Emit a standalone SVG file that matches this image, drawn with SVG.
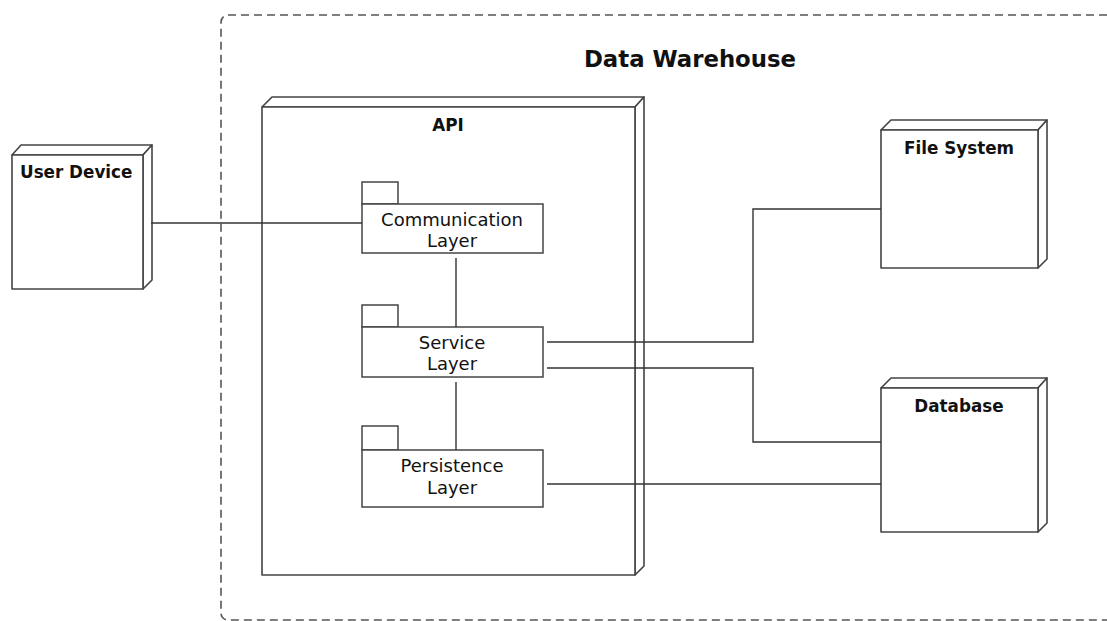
<svg xmlns="http://www.w3.org/2000/svg" width="1107" height="621" viewBox="0 0 1107 621">
  <style>
    .frame { fill: none; stroke: #555; stroke-width: 1.6; stroke-dasharray: 8 5; }
    .face { fill: #fff; stroke: #444; stroke-width: 1.6; stroke-linejoin: round; }
    .pkg { fill: #fff; stroke: #444; stroke-width: 1.5; }
    .wire { fill: none; stroke: #333; stroke-width: 1.4; }
    .title { font-family: "DejaVu Sans", "Liberation Sans", sans-serif; font-weight: bold; fill: #111; }
    .label { font-family: "DejaVu Sans", "Liberation Sans", sans-serif; font-size: 18px; fill: #111; text-anchor: middle; }
    .node-name { font-size: 16.8px; }
  </style>

  <rect width="1107" height="621" fill="#fff"/>

  <!-- deployment boundary -->
  <g id="data-warehouse">
    <rect class="frame" x="221" y="15" width="1000" height="605" rx="7"/>
    <text class="title" x="690" y="67" font-size="22.8" text-anchor="middle">Data Warehouse</text>
  </g>

  <!-- User Device node -->
  <g id="user-device">
    <polygon class="face" points="12,155 21,145 152,145 143,155"/>
    <polygon class="face" points="143,155 152,145 152,280 143,289"/>
    <rect class="face" x="12" y="155" width="131" height="134"/>
    <text class="title node-name" x="20" y="178">User Device</text>
  </g>

  <!-- API node -->
  <g id="api">
    <polygon class="face" points="262,107 272,97 644,97 635,107"/>
    <polygon class="face" points="635,107 644,97 644,566 635,575"/>
    <rect class="face" x="262" y="107" width="373" height="468"/>
    <text class="title node-name" x="448" y="131" text-anchor="middle">API</text>
  </g>

  <!-- packages inside API -->
  <g id="communication-layer">
    <rect class="pkg" x="362" y="182" width="36" height="22"/>
    <rect class="pkg" x="362" y="204" width="181" height="49"/>
    <text class="label" x="452" y="226">Communication</text>
    <text class="label" x="452" y="247">Layer</text>
  </g>

  <g id="service-layer">
    <rect class="pkg" x="362" y="305" width="36" height="22"/>
    <rect class="pkg" x="362" y="327" width="181" height="50"/>
    <text class="label" x="452" y="349">Service</text>
    <text class="label" x="452" y="370">Layer</text>
  </g>

  <g id="persistence-layer">
    <rect class="pkg" x="362" y="426" width="36" height="24"/>
    <rect class="pkg" x="362" y="450" width="181" height="57"/>
    <text class="label" x="452" y="472">Persistence</text>
    <text class="label" x="452" y="494">Layer</text>
  </g>

  <!-- File System node -->
  <g id="file-system">
    <polygon class="face" points="881,130 891,120 1047,120 1038,130"/>
    <polygon class="face" points="1038,130 1047,120 1047,259 1038,268"/>
    <rect class="face" x="881" y="130" width="157" height="138"/>
    <text class="title node-name" x="959" y="154" text-anchor="middle">File System</text>
  </g>

  <!-- Database node -->
  <g id="database">
    <polygon class="face" points="881,388 891,378 1047,378 1038,388"/>
    <polygon class="face" points="1038,388 1047,378 1047,523 1038,532"/>
    <rect class="face" x="881" y="388" width="157" height="144"/>
    <text class="title node-name" x="959" y="412" text-anchor="middle">Database</text>
  </g>

  <!-- connectors, drawn on top of the nodes they cross -->
  <g id="connectors">
    <path class="wire" d="M151,223 H362"/>
    <path class="wire" d="M456,258 V327"/>
    <path class="wire" d="M456,382 V450"/>
    <path class="wire" d="M547,342 H753 V209 H881"/>
    <path class="wire" d="M547,368 H753 V442 H881"/>
    <path class="wire" d="M547,484 H881"/>
  </g>
</svg>
